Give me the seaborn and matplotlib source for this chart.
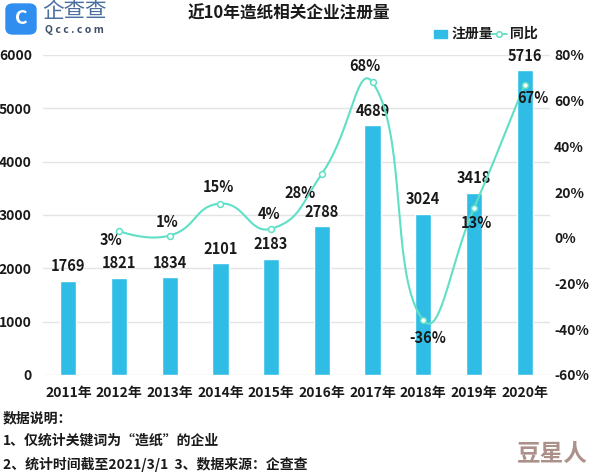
import numpy as np
import pandas as pd
import matplotlib
matplotlib.use("Agg")
import matplotlib.pyplot as plt
import seaborn as sns
from matplotlib.patches import FancyBboxPatch, Rectangle
from matplotlib.lines import Line2D

years = ["2011年", "2012年", "2013年", "2014年", "2015年", "2016年", "2017年", "2018年", "2019年", "2020年"]
registrations = [1769, 1821, 1834, 2101, 2183, 2788, 4689, 3024, 3418, 5716]
yoy_years = ["2012年", "2013年", "2014年", "2015年", "2016年", "2017年", "2018年", "2019年", "2020年"]
yoy_pct = [3, 1, 15, 4, 28, 68, -36, 13, 67]
left_ticks = [0, 1000, 2000, 3000, 4000, 5000, 6000]
right_ticks = [-60, -40, -20, 0, 20, 40, 60, 80]

# label offsets (pixels) for the percentage labels: style only
pct_offsets = [(-8, -9), (-3, 14), (-2, 17), (-2, 15), (-22, -19), (-8, 16), (4, -18), (2, -15), (8, -13)]

sns.set_theme(style="white")
plt.rcParams['font.family'] = ['Noto Sans CJK SC', 'DejaVu Sans']

BAR = "#2fbde6"
LINE = "#5fe0c6"
TXT = "#1a1a1a"
WT = "bold"

fig = plt.figure(figsize=(5.94, 4.75), dpi=100)
W, H = 594, 475
ax = fig.add_axes([43 / W, 1 - 375 / H, (550 - 43) / W, (375 - 55) / H])

df = pd.DataFrame({"year": years, "count": registrations})
sns.barplot(data=df, x="year", y="count", color=BAR, width=0.32, saturation=1, ax=ax, zorder=2)
ax.set_ylim(0, 6000)
ax.set_xlim(-0.5, 9.5)
ax.set_yticks(left_ticks)
ax.yaxis.grid(True, color="#e4e4e4", linewidth=1, zorder=0)
ax.set_axisbelow(True)
for s in ax.spines.values():
    s.set_visible(False)
ax.set_xlabel("")
ax.set_ylabel("")
ax.tick_params(axis="both", length=0, labelsize=10, labelcolor=TXT)
ax.tick_params(axis="y", pad=8)
ax.tick_params(axis="x", pad=8)
for lab in ax.get_xticklabels() + ax.get_yticklabels():
    lab.set_fontweight(WT)

for i, v in enumerate(registrations):
    ax.text(i, v + 120, str(v), ha="center", va="bottom", fontsize=10.5, color=TXT, fontweight=WT)

ax2 = ax.twinx()
ax2.set_ylim(-60, 80)
ax2.set_yticks(right_ticks)
ax2.set_yticklabels([f"{t}%" for t in right_ticks])
for s in ax2.spines.values():
    s.set_visible(False)
ax2.tick_params(axis="y", length=0, labelsize=10, labelcolor=TXT, pad=3)
for lab in ax2.get_yticklabels():
    lab.set_fontweight(WT)

xpos = np.array([years.index(y) for y in yoy_years], dtype=float)
ypos = np.array(yoy_pct, dtype=float)

# smooth curve drawn in display space (bezier smoothing like the original chart tool)
def smooth_display(axis, xs, ys, smooth=0.5, n=40):
    pts = axis.transData.transform(np.column_stack([xs, ys]))
    m = len(pts)
    out = [pts[0]]
    cp0 = pts[0].copy()
    for i in range(1, m):
        p = pts[i]
        prev = pts[i - 1]
        nxt = pts[i + 1] if i + 1 < m else p
        v = nxt - prev
        d0 = np.hypot(*(p - prev))
        d1 = np.hypot(*(nxt - p))
        r = d1 / (d0 + d1) if (d0 + d1) > 0 else 0.5
        cp1 = p - v * smooth * (1 - r)
        ncp0 = p + v * smooth * r
        a = pts[i - 1]
        t = np.linspace(0, 1, n)[1:, None]
        seg = (1 - t) ** 3 * a + 3 * (1 - t) ** 2 * t * cp0 + 3 * (1 - t) * t ** 2 * cp1 + t ** 3 * p
        out.extend(seg)
        cp0 = ncp0
    out = np.array(out)
    return axis.transData.inverted().transform(out)

curve = smooth_display(ax2, xpos, ypos)
ax2.plot(curve[:, 0], curve[:, 1], color=LINE, linewidth=1.5, zorder=3)
ldf = pd.DataFrame({"x": xpos, "y": ypos})
sns.scatterplot(data=ldf, x="x", y="y", ax=ax2, s=18, color="white", edgecolor=LINE, linewidth=1.1, zorder=4)
ax2.set_xlabel("")
ax2.set_ylabel("")

for (x, y), (dx, dy) in zip(zip(xpos, ypos), pct_offsets):
    ax2.annotate(f"{int(y)}%", (x, y), xytext=(dx, dy), textcoords="offset pixels",
                 ha="center", va="center", fontsize=10.5, color=TXT, fontweight=WT)

# title
fig.text(289 / W, 1 - 14 / H, "近10年造纸相关企业注册量", ha="center", va="center",
         fontsize=12, fontweight="heavy", color=TXT)

# legend (manual)
fig.patches.append(Rectangle((434 / W, 1 - 38 / H), 13 / W, 8 / H, transform=fig.transFigure,
                             color=BAR, figure=fig))
fig.text(452 / W, 1 - 34 / H, "注册量", ha="left", va="center", fontsize=10, fontweight=WT, color=TXT)
fig.lines.append(Line2D([491 / W, 507 / W], [1 - 34 / H, 1 - 34 / H], transform=fig.transFigure,
                        color=LINE, linewidth=1.3, figure=fig))
fig.lines.append(Line2D([499 / W], [1 - 34 / H], transform=fig.transFigure, marker="o", markersize=4,
                        markerfacecolor="white", markeredgecolor=LINE, markeredgewidth=1.1, figure=fig))
fig.text(510 / W, 1 - 34 / H, "同比", ha="left", va="center", fontsize=10, fontweight=WT, color=TXT)

# logo
fig.patches.append(FancyBboxPatch((6 / W, 1 - 34 / H), 30 / W, 30 / H, transform=fig.transFigure,
                                  boxstyle="round,pad=0,rounding_size=0.012", color="#2f8ef0", figure=fig))
fig.text(21 / W, 1 - 19 / H, "C", ha="center", va="center", fontsize=14, fontweight="bold", color="white")
fig.text(42 / W, 1 - 11 / H, "企查查", ha="left", va="center", fontsize=15.5, color="#4a6fa0")
fig.text(45 / W, 1 - 30 / H, "Q c c . c o m", ha="left", va="center", fontsize=7.5, color="#3d4f66",
         fontweight="bold")

# footnotes
fig.text(3 / W, 1 - 418 / H, "数据说明：", ha="left", va="center", fontsize=10, fontweight=WT, color=TXT)
fig.text(3 / W, 1 - 441 / H, "1、仅统计关键词为“造纸”的企业", ha="left", va="center", fontsize=10,
         fontweight=WT, color=TXT)
fig.text(3 / W, 1 - 464 / H, "2、统计时间截至2021/3/1  3、数据来源：企查查", ha="left", va="center",
         fontsize=10, fontweight=WT, color=TXT)
fig.text(552 / W, 1 - 454 / H, "豆星人", ha="center", va="center", fontsize=17, fontweight="bold",
         color="#a3857f", alpha=0.9)

fig.savefig("out.png", dpi=100)
